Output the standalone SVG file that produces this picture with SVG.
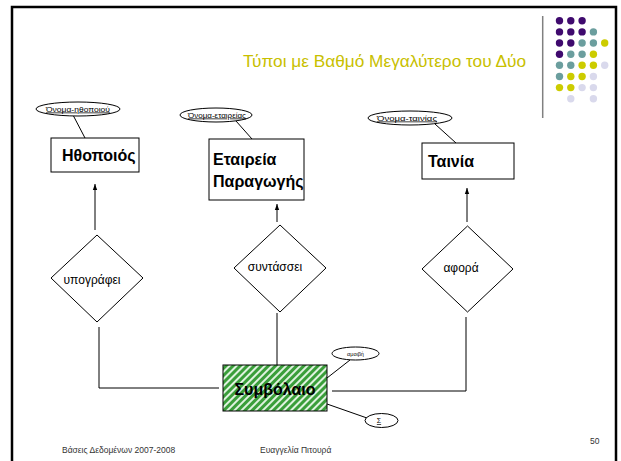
<svg xmlns="http://www.w3.org/2000/svg" width="621" height="461" viewBox="0 0 621 461">
  <style>
    .box { fill: #ffffff; stroke: #000000; stroke-width: 1; }
    .rel { fill: #ffffff; stroke: #000000; stroke-width: 1; }
    .attr { fill: #ffffff; stroke: #000000; stroke-width: 1; }
    .wire { fill: none; stroke: #000000; stroke-width: 1; }
    .ent { font-family: "Liberation Sans", Arial, sans-serif; font-weight: bold; font-size: 16px; fill: #000000; }
    .relt { font-family: "Liberation Sans", Arial, sans-serif; font-size: 12px; fill: #000000; }
    .attrt { font-family: "Liberation Sans", Arial, sans-serif; font-size: 7.5px; fill: #000000; text-decoration: underline; }
    .foot { font-family: "Liberation Sans", Arial, sans-serif; font-size: 8.5px; fill: #333333; }
    .P { fill: #3f0a6e; } .T { fill: #6b9e9e; } .Y { fill: #cccc00; } .L { fill: #d9d9ec; }
  </style>
  <defs>
    <marker id="arrow" viewBox="0 0 6 6" refX="6" refY="3" markerWidth="6" markerHeight="6" orient="auto" markerUnits="userSpaceOnUse">
      <path d="M0,0.8 L6,3 L0,5.2 Z" fill="#000000"/>
    </marker>
    <pattern id="hatch" width="5" height="5" patternUnits="userSpaceOnUse" patternTransform="rotate(45)">
      <rect width="5" height="5" fill="#3a9e3a"/>
      <rect width="2" height="5" fill="#dff2df"/>
    </pattern>
  </defs>

  <!-- slide background and frame -->
  <rect width="621" height="461" fill="#ffffff"/>
  <path d="M12,470 V7 H616 V470" fill="none" stroke="#000000" stroke-width="2.5"/>

  <!-- decorative dot grid and separator -->
  <g id="decoration">
    <line x1="542.7" y1="16" x2="542.7" y2="118" stroke="#808080" stroke-width="1.5"/>
    <g>
      <circle class="P" cx="559.5" cy="20.7" r="3.7"/><circle class="P" cx="570.8" cy="20.7" r="3.7"/><circle class="P" cx="582.1" cy="20.7" r="3.7"/>
      <circle class="P" cx="559.5" cy="31.9" r="3.7"/><circle class="P" cx="570.8" cy="31.9" r="3.7"/><circle class="P" cx="582.1" cy="31.9" r="3.7"/><circle class="T" cx="593.4" cy="31.9" r="3.7"/>
      <circle class="P" cx="559.5" cy="43" r="3.7"/><circle class="P" cx="570.8" cy="43" r="3.7"/><circle class="T" cx="582.1" cy="43" r="3.7"/><circle class="T" cx="593.4" cy="43" r="3.7"/><circle class="Y" cx="604.7" cy="43" r="3.7"/>
      <circle class="P" cx="559.5" cy="54.2" r="3.7"/><circle class="T" cx="570.8" cy="54.2" r="3.7"/><circle class="T" cx="582.1" cy="54.2" r="3.7"/><circle class="Y" cx="593.4" cy="54.2" r="3.7"/>
      <circle class="T" cx="559.5" cy="65.3" r="3.7"/><circle class="T" cx="570.8" cy="65.3" r="3.7"/><circle class="Y" cx="582.1" cy="65.3" r="3.7"/><circle class="Y" cx="593.4" cy="65.3" r="3.7"/><circle class="L" cx="604.7" cy="65.3" r="3.7"/>
      <circle class="T" cx="559.5" cy="76.5" r="3.7"/><circle class="Y" cx="570.8" cy="76.5" r="3.7"/><circle class="Y" cx="582.1" cy="76.5" r="3.7"/><circle class="L" cx="593.4" cy="76.5" r="3.7"/>
      <circle class="Y" cx="559.5" cy="87.6" r="3.7"/><circle class="Y" cx="570.8" cy="87.6" r="3.7"/><circle class="L" cx="582.1" cy="87.6" r="3.7"/><circle class="L" cx="593.4" cy="87.6" r="3.7"/>
      <circle class="L" cx="570.8" cy="98.8" r="3.7"/><circle class="L" cx="593.4" cy="98.8" r="3.7"/>
    </g>
  </g>

  <!-- title -->
  <text x="526" y="67" text-anchor="end" font-family="'Liberation Sans', Arial, sans-serif" font-size="16" fill="#c8c000" textLength="283" lengthAdjust="spacingAndGlyphs">Τύποι με Βαθμό Μεγαλύτερο του Δύο</text>

  <!-- connectors -->
  <g id="connectors">
    <line class="wire" x1="73" y1="115" x2="85" y2="138"/>
    <line class="wire" x1="236" y1="121" x2="252" y2="139"/>
    <line class="wire" x1="435" y1="124" x2="456" y2="143"/>
    <line class="wire" x1="95" y1="230" x2="95" y2="184" marker-end="url(#arrow)"/>
    <line class="wire" x1="277" y1="222" x2="277" y2="204" marker-end="url(#arrow)"/>
    <line class="wire" x1="467" y1="222" x2="467" y2="188" marker-end="url(#arrow)"/>
    <polyline class="wire" points="99,327 99,388 219,388"/>
    <line class="wire" x1="277" y1="313" x2="277" y2="365"/>
    <polyline class="wire" points="466,317 466,391 332,391"/>
    <line class="wire" x1="327" y1="378" x2="350" y2="360"/>
    <line class="wire" x1="327" y1="404" x2="367" y2="418"/>
  </g>

  <!-- entities -->
  <g id="actor">
    <rect class="box" x="51" y="138" width="88" height="34"/>
    <text class="ent" x="62" y="161">Ηθοποιός</text>
  </g>
  <g id="company">
    <rect class="box" x="209" y="139" width="95" height="61"/>
    <text class="ent" x="213" y="165" font-size="15.5">Εταιρεία</text>
    <text class="ent" x="213" y="187" font-size="15.5">Παραγωγής</text>
  </g>
  <g id="movie">
    <rect class="box" x="422" y="143" width="92" height="36"/>
    <text class="ent" x="428" y="167">Ταινία</text>
  </g>
  <g id="contract">
    <rect x="223" y="365" width="104" height="46" fill="url(#hatch)" stroke="#000000" stroke-width="1"/>
    <text class="ent" x="275" y="395" text-anchor="middle" font-size="17.5">Συμβόλαιο</text>
  </g>

  <!-- relationships -->
  <g id="signs">
    <polygon class="rel" points="97,235 143,278 97,322 51,278"/>
    <text class="relt" x="92" y="284" text-anchor="middle">υπογράφει</text>
  </g>
  <g id="drafts">
    <polygon class="rel" points="280,225 326,268 280,312 234,268"/>
    <text class="relt" x="275" y="271" text-anchor="middle">συντάσσει</text>
  </g>
  <g id="concerns">
    <polygon class="rel" points="467.5,226 513,269 467.5,312 422,269"/>
    <text class="relt" x="461" y="272" text-anchor="middle">αφορά</text>
  </g>

  <!-- attributes -->
  <g id="actor-name">
    <ellipse class="attr" cx="78" cy="109" rx="42" ry="7"/>
    <text class="attrt" x="78" y="111.5" text-anchor="middle" textLength="64" lengthAdjust="spacingAndGlyphs">Όνομα-ηθοποιού</text>
  </g>
  <g id="company-name">
    <ellipse class="attr" cx="216" cy="115" rx="36" ry="7"/>
    <text class="attrt" x="217" y="117.5" text-anchor="middle" textLength="58" lengthAdjust="spacingAndGlyphs">Όνομα-εταιρείας</text>
  </g>
  <g id="movie-name">
    <ellipse class="attr" cx="410" cy="118" rx="42" ry="7"/>
    <text class="attrt" x="407" y="120.5" text-anchor="middle" textLength="60" lengthAdjust="spacingAndGlyphs">Όνομα-ταινίας</text>
  </g>
  <g id="fee">
    <ellipse class="attr" cx="355.5" cy="353.5" rx="23.5" ry="6.5"/>
    <text x="355.5" y="355.5" text-anchor="middle" font-family="'Liberation Sans', Arial, sans-serif" font-size="5.5" fill="#000000">αμοιβή</text>
  </g>
  <g id="sigma">
    <ellipse class="attr" cx="381.5" cy="420.5" rx="16.5" ry="7"/>
    <text x="379" y="423" text-anchor="middle" font-family="'Liberation Sans', Arial, sans-serif" font-size="7" fill="#000000" text-decoration="underline">Σ</text>
  </g>

  <!-- footer -->
  <text class="foot" x="62" y="453">Βάσεις Δεδομένων 2007-2008</text>
  <text class="foot" x="260" y="453">Ευαγγελία Πιτουρά</text>
  <text class="foot" x="590" y="444">50</text>
</svg>
